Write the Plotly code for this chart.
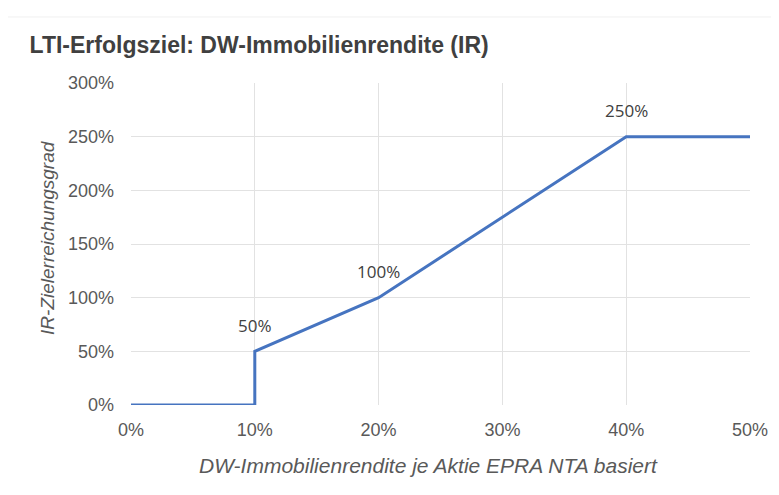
import plotly.graph_objects as go

x_vals = [0, 10, 10, 20, 40, 50]
y_vals = [0, 0, 50, 100, 250, 250]
label_x = [10, 20, 40]
label_y = [50, 100, 250]
label_text = ["50%", "100%", "250%"]
x_ticks = [0, 10, 20, 30, 40, 50]
y_ticks = [0, 50, 100, 150, 200, 250, 300]

FONT = "Liberation Sans, Arial, sans-serif"

fig = go.Figure()
fig.add_trace(go.Scatter(x=x_vals, y=y_vals, mode="lines",
                         line=dict(color="#4674C0", width=3), showlegend=False,
                         hoverinfo="skip"))

for lx, ly, lt in zip(label_x, label_y, label_text):
    fig.add_annotation(x=lx, y=ly, text=lt, showarrow=False, yshift=26,
                       font=dict(family="Open Sans, Liberation Sans, Arial", size=17, color="#404040"))

# axis titles
fig.add_annotation(xref="paper", yref="paper", x=0.481, y=-0.189, xanchor="center", yanchor="middle",
                   text="<i>DW-Immobilienrendite je Aktie EPRA NTA basiert</i>", showarrow=False,
                   font=dict(family=FONT, size=21, color="#595959"))
fig.add_annotation(xref="paper", yref="paper", x=-0.134, y=0.519, xanchor="center", yanchor="middle",
                   text="<i>IR-Zielerreichungsgrad</i>", showarrow=False, textangle=-90,
                   font=dict(family=FONT, size=19, color="#595959"))

# faint chart frame (top edge)
fig.add_shape(type="line", xref="paper", yref="paper", x0=-0.3, x1=1.1, y0=1.205, y1=1.205,
              line=dict(color="#f0f0f0", width=1), layer="below")

fig.update_layout(
    width=771, height=487,
    margin=dict(l=123, r=29, t=75, b=90),
    paper_bgcolor="white", plot_bgcolor="white",
    font=dict(family=FONT, color="#595959"),
    title=dict(text="<b>LTI-Erfolgsziel: DW-Immobilienrendite (IR)</b>",
               x=0.028, xanchor="left", xref="container",
               y=1 - 37 / 487, yanchor="middle", yref="container",
               font=dict(family=FONT, size=23, color="#404040")),
)
fig.update_xaxes(range=[0, 50], tickvals=x_ticks, ticktext=[f"{v}%" for v in x_ticks],
                 showgrid=True, gridcolor="#e2e2e2", gridwidth=1, zeroline=False,
                 showline=False, tickfont=dict(size=18, color="#595959"), ticks="",
                 ticklabelstandoff=12)
fig.update_yaxes(range=[0, 300], tickvals=y_ticks, ticktext=[f"{v}%" for v in y_ticks],
                 showgrid=True, gridcolor="#e2e2e2", gridwidth=1, zeroline=False,
                 showline=False, tickfont=dict(size=18, color="#595959"), ticks="",
                 ticklabelstandoff=16)

fig.write_html("out.html")
